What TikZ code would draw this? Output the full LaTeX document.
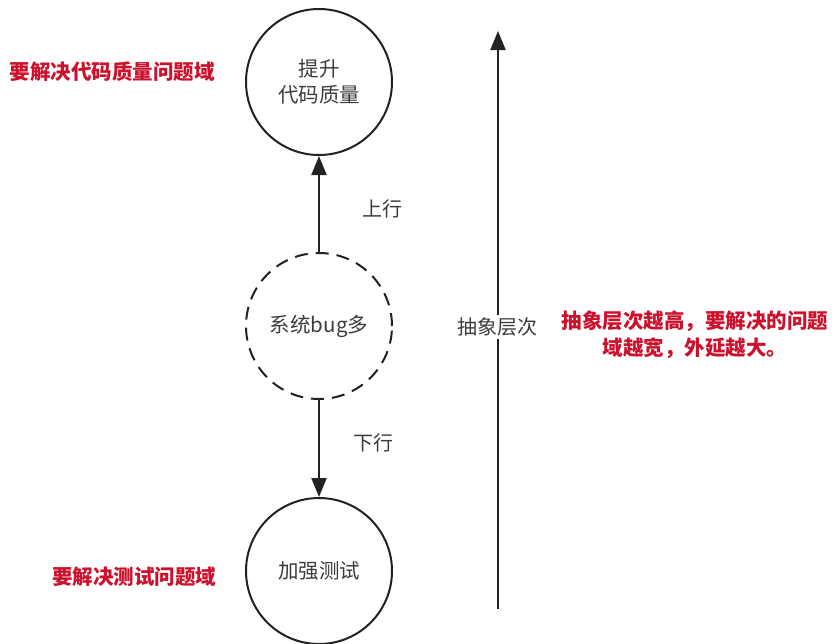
\documentclass[tikz,border=0pt]{standalone}
\usepackage{fontspec}
\setmainfont{Noto Sans CJK SC}
\usetikzlibrary{arrows.meta}
\definecolor{redtxt}{RGB}{205,16,44}
\definecolor{ink}{RGB}{34,34,34}
\definecolor{txt}{RGB}{60,60,60}
\begin{document}
\begin{tikzpicture}[x=1pt,y=-1pt,
  bubble/.style={circle,draw=ink,line width=2pt,minimum size=146pt,inner sep=0pt,
    text=txt,font=\fontsize{20.5}{26}\selectfont,align=center},
  dashbubble/.style={bubble,dash pattern=on 13pt off 8pt},
  conn/.style={draw=ink,line width=2pt,-{Triangle[length=19pt,width=15pt]}},
  lbl/.style={text=txt,font=\fontsize{20}{24}\selectfont,inner sep=1pt},
  note/.style={text=redtxt,font=\bfseries\fontsize{20.5}{27}\selectfont,align=center,inner sep=0pt}]
\useasboundingbox[fill=white] (0,0) rectangle (837,643);
\node[bubble] (top) at (319,82) {提升\\代码质量};
\node[dashbubble] (mid) at (319,326) {系统bug多};
\node[bubble] (bot) at (319,571) {加强测试};
\draw[conn] (mid.north) -- (top.south);
\draw[conn] (mid.south) -- (bot.north);
\node[lbl] (up) at (382,209) {上行};
\node[lbl] (down) at (373,443) {下行};
\coordinate (abot) at (498,609);
\coordinate (atop) at (498,31);
\draw[conn] (abot) -- (atop);
\node[lbl,fill=white,inner sep=3pt] (abs) at (497,327) {抽象层次};
\node[note] (n1) at (112,72) {要解决代码质量问题域};
\node[note] (n2) at (134,577) {要解决测试问题域};
\node[note] (n3) at (695,335) {抽象层次越高，要解决的问题\\域越宽，外延越大。};
\end{tikzpicture}
\end{document}
